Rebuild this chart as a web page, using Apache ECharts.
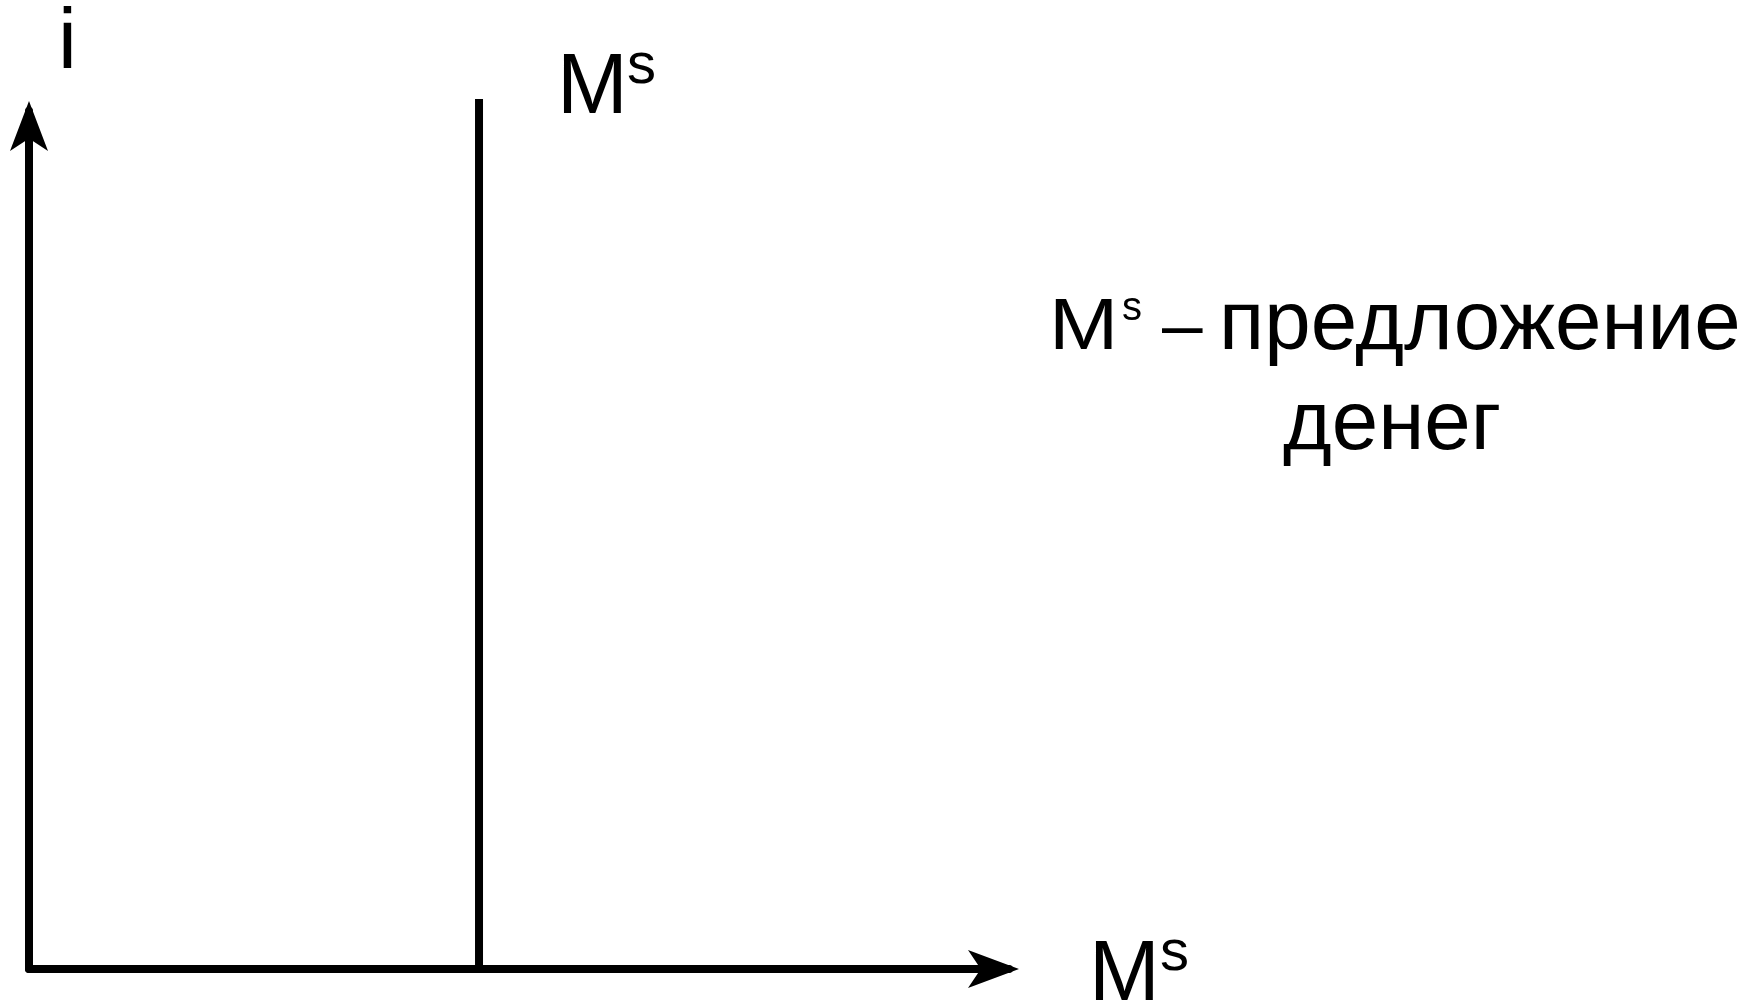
<!DOCTYPE html>
<html>
<head>
<meta charset="utf-8">
<script src="https://cdn.jsdelivr.net/npm/echarts@6/dist/echarts.min.js"></script>
<style>
html,body{margin:0;padding:0;background:#fff;}
#c{width:1758px;height:1003px;}
</style>
</head>
<body>
<div id="c"></div>
<script>
// ---- data ----
var xRange = [0, 100];           // money quantity axis (arbitrary units)
var yRange = [0, 100];           // interest rate axis (arbitrary units)
var msLevel = 45.92;             // fixed money supply
var msLineY = [0, 101.4];        // vertical Ms line extent (i values)
var yAxisName = 'i';
var xAxisName = 'M';
var supName = 's';
var dashText = '–';
var legendLine1 = 'предложение';
var legendLine2 = 'денег';

var FONT = '"Liberation Sans", Arial, sans-serif';
var chart = echarts.init(document.getElementById('c'), null, {renderer: 'canvas'});

function txt(x, y, s, size, sx) {
  return {
    type: 'text', x: x, y: y, scaleX: sx || 1, silent: true,
    style: { text: s, fontSize: size, fontFamily: FONT, fill: '#000', align: 'left', verticalAlign: 'middle' }
  };
}

var axisCommon = {
  type: 'value',
  axisLine: { show: true, symbol: ['none', 'arrow'], symbolOffset: [0, 10], lineStyle: { color: '#000', width: 8 } },
  axisTick: { show: false }, axisLabel: { show: false }, splitLine: { show: false }
};

chart.setOption({
  backgroundColor: '#fff',
  animation: false,
  grid: { left: 29, top: 111, right: 749, bottom: 34 },
  xAxis: Object.assign({}, axisCommon, { min: xRange[0], max: xRange[1],
    axisLine: Object.assign({}, axisCommon.axisLine, { symbolSize: [28.5, 51] }) }),
  yAxis: Object.assign({}, axisCommon, { min: yRange[0], max: yRange[1],
    axisLine: Object.assign({}, axisCommon.axisLine, { symbolSize: [28.5, 50] }) }),
  series: [{
    type: 'line', clip: false, symbol: 'none',
    data: msLineY.map(function (v) { return [msLevel, v]; }),
    lineStyle: { color: '#000', width: 8 }
  }],
  graphic: [
    txt(58, 45, yAxisName, 85),
    txt(557, 90, xAxisName, 85),
    txt(627, 67, supName, 58),
    txt(1089, 977, xAxisName, 85),
    txt(1160, 954, supName, 58),
    txt(1049, 328.6, xAxisName, 73, 1.14),
    txt(1122, 308.8, supName, 40),
    txt(1162, 328.6, dashText, 73),
    txt(1219, 325.6, legendLine1, 83.5),
    txt(1283, 425.6, legendLine2, 83.5)
  ]
});
</script>
</body>
</html>
